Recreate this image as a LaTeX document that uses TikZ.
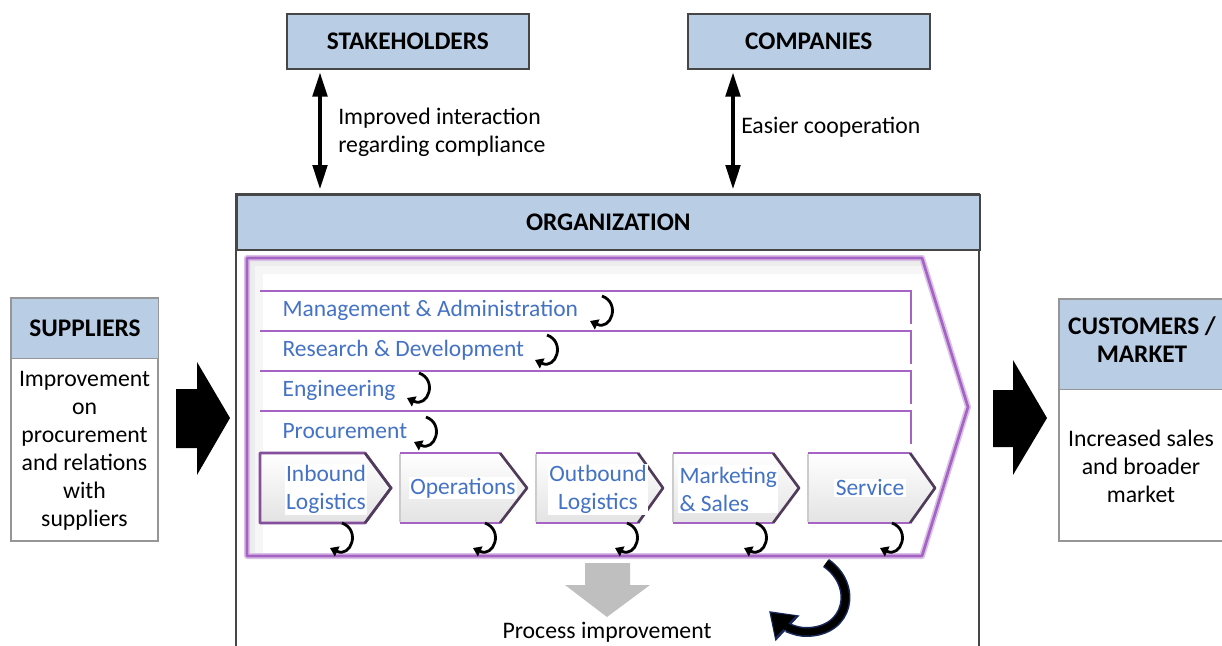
\documentclass[tikz,border=0pt]{standalone}
\usepackage{fontspec}
\setmainfont{Carlito}
\usetikzlibrary{arrows.meta,calc}
\definecolor{hdrblue}{RGB}{185,205,229}
\definecolor{boxline}{RGB}{70,70,70}
\definecolor{lightline}{RGB}{150,150,150}
\definecolor{vpurple}{RGB}{165,100,195}
\definecolor{txtblue}{RGB}{68,114,196}
\definecolor{arrgray}{RGB}{191,191,191}
\definecolor{navyedge}{RGB}{25,40,90}
\definecolor{chevdark}{RGB}{80,60,90}
\tikzset{
  hdrbox/.style={draw=boxline, line width=1.2pt, fill=hdrblue, inner sep=0pt, anchor=north west, font=\fontsize{19}{21}\selectfont\bfseries, align=center},
  plaintxt/.style={font=\fontsize{17.8}{21}\selectfont, inner sep=0pt, align=center},
  bluetxt/.style={font=\fontsize{17.6}{21}\selectfont, text=txtblue, inner sep=1pt, align=left},
  dblarrow/.style={line width=2.4pt, {Triangle[width=11pt,length=18pt]}-{Triangle[width=11pt,length=18pt]}},
  vpline/.style={draw=vpurple, line width=2.2pt},
  primchev/.style={top color=white, bottom color=gray!22, draw=none},
  blockarrow/.style={fill=black, draw=none},
  looparrow/.style={line width=2.1pt, -{Triangle[width=8pt,length=6pt]}},
  pics/loopy/.style={code={\draw[looparrow] (0,-15) .. controls (19,-8) and (9,20) .. (-12,10);}}
}
\begin{document}
\begin{tikzpicture}[x=0.75pt,y=-0.75pt]
\useasboundingbox (0,0) rectangle (1222,646);
\clip (0,0) rectangle (1222,646);

% ---------- top boxes ----------
\node[hdrbox, minimum width=181.5pt, minimum height=41.25pt] (stake) at (286,13) {STAKEHOLDERS};
\node[hdrbox, minimum width=181.5pt, minimum height=41.25pt] (comp) at (687,13) {COMPANIES};

% ---------- organization ----------
\draw[boxline, line width=1.2pt] (236,194) rectangle (979,700);
\node[hdrbox, minimum width=557.25pt, minimum height=41.25pt] (org) at (236,194) {ORGANIZATION};

\coordinate (sa) at (320,0);
\coordinate (ca) at (733,0);
\draw[dblarrow] ($(stake.south -| sa)+(0,3)$) -- ($(org.north -| sa)+(0,-5)$);
\draw[dblarrow] ($(comp.south -| ca)+(0,3)$) -- ($(org.north -| ca)+(0,-5)$);
\node[plaintxt, anchor=west, align=left] (lstake) at (338,132) {Improved interaction\\regarding compliance};
\node[plaintxt, anchor=west, align=left] (lcomp) at (741,127) {Easier cooperation};

% ---------- big value chain chevron ----------
\path[fill=white] (247,258) -- (922,258) -- (968,407) -- (922,556) -- (247,556) -- cycle;
\begin{scope}
  \clip (247,258) -- (922,258) -- (968,407) -- (922,556) -- (247,556) -- cycle;
  \draw[gray!7, line width=24pt] (247,258) -- (922,258);
  \draw[gray!7, line width=24pt] (247,258) -- (247,556);
  \draw[gray!14, line width=12pt] (247,258) -- (922,258);
  \draw[gray!14, line width=12pt] (247,258) -- (247,556);
  \draw[gray!22, line width=5pt] (247,258) -- (922,258);
  \draw[gray!22, line width=5pt] (247,258) -- (247,556);
\end{scope}
\draw[vpurple!40, line width=4.5pt, line join=round] (247,258) -- (922,258) -- (968,407) -- (922,556) -- (247,556) -- cycle;
\draw[vpurple, line width=2pt, line join=round] (247,258) -- (922,258) -- (968,407) -- (922,556) -- (247,556) -- cycle;

% support activity lines
\foreach \yy in {291,331,371,411}{
  \draw[vpline] (260,\yy) -- (911,\yy) -- (911,\yy+33);
}
\node[bluetxt, anchor=west] (ma) at (281,310) {Management \& Administration};
\node[bluetxt, anchor=west] (rd) at (281,350) {Research \& Development};
\node[bluetxt, anchor=west] (eng) at (281,390) {Engineering};
\node[bluetxt, anchor=west] (proc) at (281,431) {Procurement};
\pic at (602,311) {loopy};
\pic at (547,350) {loopy};
\pic at (419,388) {loopy};
\pic at (426,432) {loopy};

% primary activities
\path[primchev] (260,453) -- (365,453) -- (391,488) -- (365,523) -- (260,523) -- cycle;
\draw[vpurple!80!black, line width=2pt, line join=round] (260,453) -- (365,453) -- (391,488) -- (365,523) -- (260,523) -- cycle;
\draw[chevdark, line width=2pt] (365,453) -- (391,488) -- (365,523);

\path[primchev] (400,453) -- (500,453) -- (527,488) -- (500,523) -- (400,523) -- cycle;
\path[primchev] (536,453) -- (638,453) -- (663,488) -- (638,523) -- (536,523) -- cycle;
\path[primchev] (673,453) -- (773,453) -- (799,488) -- (773,523) -- (673,523) -- cycle;
\path[primchev] (808,453) -- (910,453) -- (935,488) -- (910,523) -- (808,523) -- cycle;
\foreach \a/\b/\c in {400/500/527, 536/638/663, 673/773/799, 808/910/935}{
  \draw[gray!40, line width=1.5pt] (\a,454) -- (\a,522);
  \draw[vpurple, line width=1.8pt] (\a,453) -- (\b,453);
  \draw[vpurple, line width=1.8pt] (\a,523) -- (\b,523);
  \draw[chevdark, line width=2pt, line join=round] (\b,453) -- (\c,488) -- (\b,523);
}
\node[bluetxt, fill=white, align=center] (inb) at (326,489) {Inbound\\Logistics};
\node[bluetxt, fill=white, align=center] (ops) at (463,488) {Operations};
\node[bluetxt, fill=white, align=center] (outb) at (598,489) {Outbound\\Logistics};
\node[bluetxt, fill=white, align=left, anchor=west] (mkt) at (678,489) {Marketing\\\& Sales};
\node[bluetxt, fill=white, align=center] (serv) at (870,488) {Service};
\pic at (342,538) {loopy};
\pic at (485,538) {loopy};
\pic at (627,538) {loopy};
\pic at (756,538) {loopy};
\pic at (892,538) {loopy};

% process improvement
\fill[arrgray] (585,563) -- (630,563) -- (630,585) -- (650,585) -- (607,617) -- (565,585) -- (585,585) -- cycle;
\node[plaintxt] (pimp) at (607,632) {Process improvement};

% big curved arrow
\coordinate (bcs) at (826,563);
\coordinate (bcm) at (806,632);
\coordinate (bce) at (769,611);
\draw[navyedge, line width=7.5pt, -{Triangle[width=25pt,length=19pt]}] (bcs) .. controls (858,585) and (850,632) .. (bcm) .. controls (795,632) and (785,626) .. (bce);
\draw[black, line width=5.2pt, shorten >=2pt, -{Triangle[width=21pt,length=15pt]}] (bcs) .. controls (858,585) and (850,632) .. (bcm) .. controls (795,632) and (785,626) .. (bce);

% ---------- suppliers ----------
\draw[lightline, line width=0.8pt, fill=white] (11,298) rectangle (158,541);
\node[hdrbox, draw=lightline, line width=0.8pt, minimum width=110.25pt, minimum height=45pt] (sup) at (11,298) {SUPPLIERS};
\node[plaintxt] (suptxt) at (84.5,451) {Improvement\\on\\procurement\\and relations\\with\\suppliers};
\fill[blockarrow] (176,389) -- (197,389) -- (197,362) -- (230,418) -- (197,475) -- (197,448) -- (176,448) -- cycle;

% ---------- customers ----------
\draw[lightline, line width=0.8pt, fill=white] (1059,299) rectangle (1240,541);
\node[hdrbox, draw=lightline, line width=0.8pt, minimum width=135.75pt, minimum height=67.5pt] (cust) at (1059,299) {};
\node[plaintxt, font=\fontsize{19}{21}\selectfont\bfseries] (custt) at (1142,340) {CUSTOMERS /\\MARKET};
\node[plaintxt] (custtxt) at (1141,466) {Increased sales\\and broader\\market};
\fill[blockarrow] (993,390) -- (1013,390) -- (1013,360) -- (1047,418) -- (1013,475) -- (1013,447) -- (993,447) -- cycle;
\end{tikzpicture}
\end{document}
